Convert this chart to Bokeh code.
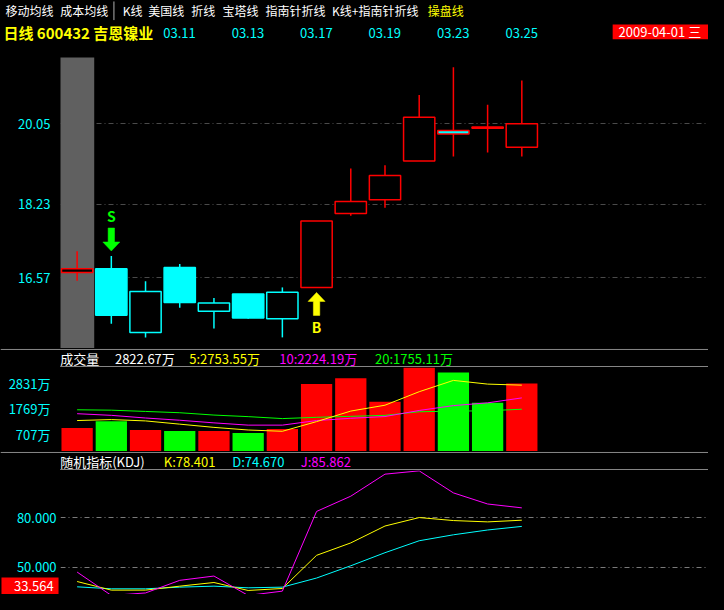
from bokeh.plotting import figure
from bokeh.layouts import column, row
from bokeh.models import Range1d, LinearAxis, FixedTicker, Grid
from bokeh.core.properties import value
from bokeh.embed import file_html
from bokeh.resources import INLINE

# ---------------- data ----------------
dates = ["03.06", "03.09", "03.10", "03.11", "03.12", "03.13", "03.16",
         "03.17", "03.18", "03.19", "03.20", "03.23", "03.24", "03.25"]
opens = [16.69, 16.77, 15.33, 16.80, 15.81, 16.20, 15.64,
         16.35, 18.02, 18.33, 19.21, 19.90, 19.95, 19.52]
highs = [17.17, 17.06, 16.49, 16.88, 16.11, 16.20, 16.35,
         17.85, 19.04, 19.11, 20.70, 21.33, 20.48, 21.03]
lows = [16.50, 15.53, 15.22, 15.89, 15.42, 15.64, 15.22,
        16.35, 17.97, 18.15, 19.21, 19.31, 19.40, 19.31]
closes = [16.77, 15.72, 16.26, 16.01, 16.00, 15.66, 16.24,
          17.85, 18.29, 18.88, 20.20, 19.82, 19.98, 20.05]

volume = [973, 1257, 892, 851, 851, 770, 932,
          2797, 3040, 2067, 3568, 3283, 2027, 2822.67]
vol_ma5 = [1285, 1325, 1269, 1135, 1001, 892, 839,
           1240, 1678, 1921, 2481, 2951, 2797, 2753.55]
vol_ma10 = [1569, 1500, 1390, 1297, 1188, 1094, 1094,
            1285, 1378, 1450, 1703, 1905, 2019, 2224.19]
vol_ma20 = [1731, 1715, 1662, 1609, 1512, 1447, 1366,
            1419, 1459, 1500, 1650, 1674, 1690, 1755.11]

kdj_k = [41.4, 36.2, 36.2, 38.6, 40.8, 36.0, 37.2,
         57.2, 64.7, 74.9, 80.0, 78.2, 77.4, 78.401]
kdj_d = [38.2, 37.0, 37.0, 38.0, 38.6, 37.6, 38.0,
         43.5, 50.9, 58.8, 66.0, 69.6, 72.5, 74.670]
kdj_j = [47.1, 33.0, 34.5, 42.1, 44.7, 33.0, 35.6,
         83.7, 92.9, 106.2, 108.2, 94.9, 88.2, 85.862]

price_ticks = [16.57, 18.23, 20.05]
price_tick_labels = ["16.57", "18.23", "20.05"]
vol_ticks = [707, 1769, 2831]
vol_tick_labels = ["707万", "1769万", "2831万"]
kdj_ticks = [50, 80]
kdj_tick_labels = ["50.000", "80.000"]
kdj_floor = 33.564

date_label_idx = [3, 5, 7, 9, 11, 13]
cursor_idx = 0
cursor_date = "2009-04-01 三"
stock_title = "日线 600432 吉恩镍业"

signal_idx = [1, 7]
signal_text = ["S", "B"]

menu_items = ["移动均线", "成本均线", "K线", "美国线", "折线", "宝塔线",
              "指南针折线", "K线+指南针折线", "操盘线"]

# ---------------- styles ----------------
FONT = "Noto Sans CJK SC"
RED, CYAN, GREEN = "#FF0000", "#00FFFF", "#00FF00"
YELLOW, MAGENTA, WHITE = "#FFFF00", "#FF00FF", "#FFFFFF"
LINEGRAY = "#8c8c8c"
GRIDGRAY = "#4a4a4a"
BG = "#000000"

body_fill = [BG, CYAN, BG, CYAN, BG, CYAN, BG, BG, BG, BG, BG, CYAN, RED, BG]
body_line = [RED, CYAN, CYAN, CYAN, CYAN, CYAN, CYAN, RED, RED, RED, RED, RED, RED, RED]
vol_colors = [RED, GREEN, RED, GREEN, RED, GREEN, RED, RED, RED, RED, RED, GREEN, GREEN, RED]
signal_colors = [GREEN, YELLOW]
signal_side = [1, -1]      # +1: arrow above the high, -1: arrow below the low
menu_x = [5, 61, 125, 151, 195, 227, 271, 339, 437]
menu_colors = [WHITE] * 8 + [YELLOW]

# ---------------- layout ----------------
W = 708
REF_W = 724
LEFT = 60
H_HDR0, H_PRICE, H_HDR1, H_VOL, H_HDR2, H_KDJ = 47, 301, 19, 84, 19, 124

X0, STEP = 78.0, 35.0  # reference px of first candle centre and spacing
x_main = Range1d((61 - X0) / STEP, (REF_W - X0) / STEP)
x_full_start, x_full_end = (0 - X0) / STEP, (REF_W - X0) / STEP
idx = list(range(len(dates)))
BW = 32.0 / 35.0

price_lo = 16.57 - (357 - 284.3) / 45.4
price_hi = 16.57 + (284.3 - 48) / 45.4
vol_hi = (463 - 377) / 0.02467
kdj_hi = 80 + (531.3 - 483) / 1.7


def base_fig(h, xr, yr, left=0, width=W):
    f = figure(width=width, height=h, x_range=xr, y_range=yr,
               output_backend="svg", toolbar_location=None,
               x_axis_location=None, y_axis_location=None,
               min_border=0, min_border_left=left,
               background_fill_color=BG, border_fill_color=BG,
               outline_line_color=None)
    f.frame_align = False
    f.xgrid.visible = False
    f.ygrid.visible = False
    return f


def txt(f, x, y, s, color, size="13px", bold=False, align="left", **kw):
    f.text(x=[x] if not isinstance(x, list) else x,
           y=[y] if not isinstance(y, list) else y,
           text=[s] if not isinstance(s, list) else s,
           text_color=color, text_font=value(FONT),
           text_font_size=value(size), text_baseline="middle",
           text_align=align, text_font_style="bold" if bold else "normal", **kw)


def left_axis(f, ticks, labels):
    ax = LinearAxis(ticker=FixedTicker(ticks=ticks),
                    major_label_overrides=dict(zip(ticks, labels)),
                    axis_line_color=None, major_tick_line_color=None,
                    minor_tick_line_color=None,
                    major_label_text_color=CYAN,
                    major_label_text_font=FONT,
                    major_label_text_font_size="13px",
                    major_label_standoff=4)
    f.add_layout(ax, "left")


def hgrid(f, ticks, color):
    g = Grid(dimension=1, ticker=FixedTicker(ticks=ticks),
             grid_line_color=color, grid_line_dash="5 3 1 3", grid_line_width=1)
    f.add_layout(g)


# ---- header: menu, title, dates ----
hdr0 = base_fig(H_HDR0, Range1d(0, REF_W), Range1d(48, 0))
hdr0.extra_x_ranges = {"idx": Range1d(x_full_start, x_full_end)}
for s, x, c in zip(menu_items, menu_x, menu_colors):
    txt(hdr0, x, 10, s, c, size="12px")
hdr0.segment(x0=[116], y0=[1], x1=[116], y1=[20], line_color="#b0b0b0", line_width=1)
txt(hdr0, 3, 33, stock_title, YELLOW, size="15px", bold=True)
txt(hdr0, [float(i) for i in date_label_idx], [33] * len(date_label_idx),
    [dates[i] for i in date_label_idx], CYAN, align="center", x_range_name="idx")
hdr0.quad(left=[626], right=[724], top=[24.5], bottom=[39.5], fill_color=RED, line_color=None)
txt(hdr0, 632, 32, cursor_date, WHITE)

# ---- price pane ----
pp = base_fig(H_PRICE, x_main, Range1d(price_lo, price_hi), left=LEFT)
ppu = H_PRICE / (price_hi - price_lo)
ppx = (W - LEFT) / (x_main.end - x_main.start)
pp.quad(left=[cursor_idx - 0.5], right=[cursor_idx + 0.5], bottom=[price_lo],
        top=[price_hi - 10 / ppu], fill_color="#606060", line_color=None)
hgrid(pp, price_ticks, GRIDGRAY)
left_axis(pp, price_ticks, price_tick_labels)
pp.segment(x0=idx, y0=lows, x1=idx, y1=highs, line_color=body_line, line_width=1.5)
pp.vbar(x=idx, width=BW,
        top=[max(o, c) for o, c in zip(opens, closes)],
        bottom=[min(o, c) for o, c in zip(opens, closes)],
        fill_color=body_fill, line_color=body_line, line_width=1.5)

xs, ys = [], []
for i, side in zip(signal_idx, signal_side):
    base = highs[i] if side > 0 else lows[i]
    tip = base + side * 5 / ppu
    hb = tip + side * 9 / ppu
    sb = hb + side * 14 / ppu
    hw, sw = 8.5 / ppx, 3.2 / ppx
    xs.append([i, i + hw, i + sw, i + sw, i - sw, i - sw, i - hw])
    ys.append([tip, hb, hb, sb, sb, hb, hb])
pp.patches(xs=xs, ys=ys, fill_color=signal_colors, line_color=signal_colors, line_width=0.5)
for i, side, s, c in zip(signal_idx, signal_side, signal_text, signal_colors):
    base = highs[i] if side > 0 else lows[i]
    txt(pp, float(i), base + side * 40 / ppu, s, c, size="14px", bold=True, align="center")

# ---- volume header ----
hdr1 = base_fig(H_HDR1, Range1d(0, REF_W), Range1d(377, 357))
hdr1.segment(x0=[0], y0=[358], x1=[REF_W], y1=[358], line_color=LINEGRAY, line_width=1)
hdr1.segment(x0=[61], y0=[376], x1=[REF_W], y1=[376], line_color=LINEGRAY, line_width=1)
txt(hdr1, 61, 367, "成交量", WHITE)
txt(hdr1, 117, 367, f"{volume[-1]:.2f}万", WHITE)
txt(hdr1, 193, 367, f"5:{vol_ma5[-1]:.2f}万", YELLOW)
txt(hdr1, 285, 367, f"10:{vol_ma10[-1]:.2f}万", MAGENTA)
txt(hdr1, 383, 367, f"20:{vol_ma20[-1]:.2f}万", GREEN)

# ---- volume pane ----
vp = base_fig(H_VOL, x_main, Range1d(0, vol_hi), left=LEFT)
left_axis(vp, vol_ticks, vol_tick_labels)
vp.vbar(x=idx, width=BW, top=volume, bottom=0, fill_color=vol_colors, line_color=None)
vp.line(idx, vol_ma20, line_color=GREEN, line_width=1)
vp.line(idx, vol_ma10, line_color=MAGENTA, line_width=1)
vp.line(idx, vol_ma5, line_color=YELLOW, line_width=1)

# ---- KDJ header ----
hdr2 = base_fig(H_HDR2, Range1d(0, REF_W), Range1d(483, 463))
hdr2.segment(x0=[0], y0=[464], x1=[REF_W], y1=[464], line_color=LINEGRAY, line_width=1)
hdr2.segment(x0=[61], y0=[482], x1=[REF_W], y1=[482], line_color=LINEGRAY, line_width=1)
txt(hdr2, 61, 473, "随机指标(KDJ)", WHITE)
txt(hdr2, 167, 473, f"K:{kdj_k[-1]:.3f}", YELLOW)
txt(hdr2, 237, 473, f"D:{kdj_d[-1]:.3f}", CYAN)
txt(hdr2, 307, 473, f"J:{kdj_j[-1]:.3f}", MAGENTA)

# ---- KDJ pane: label strip (left) + plot (right) sharing one y scale ----
kdj_y = Range1d(kdj_floor, kdj_hi)
ppu_k = H_KDJ / (kdj_hi - kdj_floor)
kl = base_fig(H_KDJ, Range1d(0, 61), kdj_y, width=LEFT)
txt(kl, [57] * len(kdj_ticks), kdj_ticks, kdj_tick_labels, CYAN, align="right")
kl.quad(left=[1], right=[59], bottom=[kdj_floor], top=[kdj_floor + 17 / ppu_k],
        fill_color=RED, line_color=None)
txt(kl, 54, kdj_floor + 9 / ppu_k, f"{kdj_floor:.3f}", WHITE, align="right")

kp = base_fig(H_KDJ, x_main, kdj_y, width=W - LEFT)
hgrid(kp, kdj_ticks, "#7a7a7a")
kp.line(idx, kdj_d, line_color=CYAN, line_width=1)
kp.line(idx, kdj_k, line_color=YELLOW, line_width=1)
kp.line(idx, kdj_j, line_color=MAGENTA, line_width=1)

root = column(hdr0, pp, hdr1, vp, hdr2, row(kl, kp, spacing=0), spacing=0)
try:
    from bokeh.models import GlobalInlineStyleSheet
    root.stylesheets = [GlobalInlineStyleSheet(css="body { background-color: #000000; }")]
except Exception:
    pass

open("out.html", "w").write(file_html(root, INLINE))
